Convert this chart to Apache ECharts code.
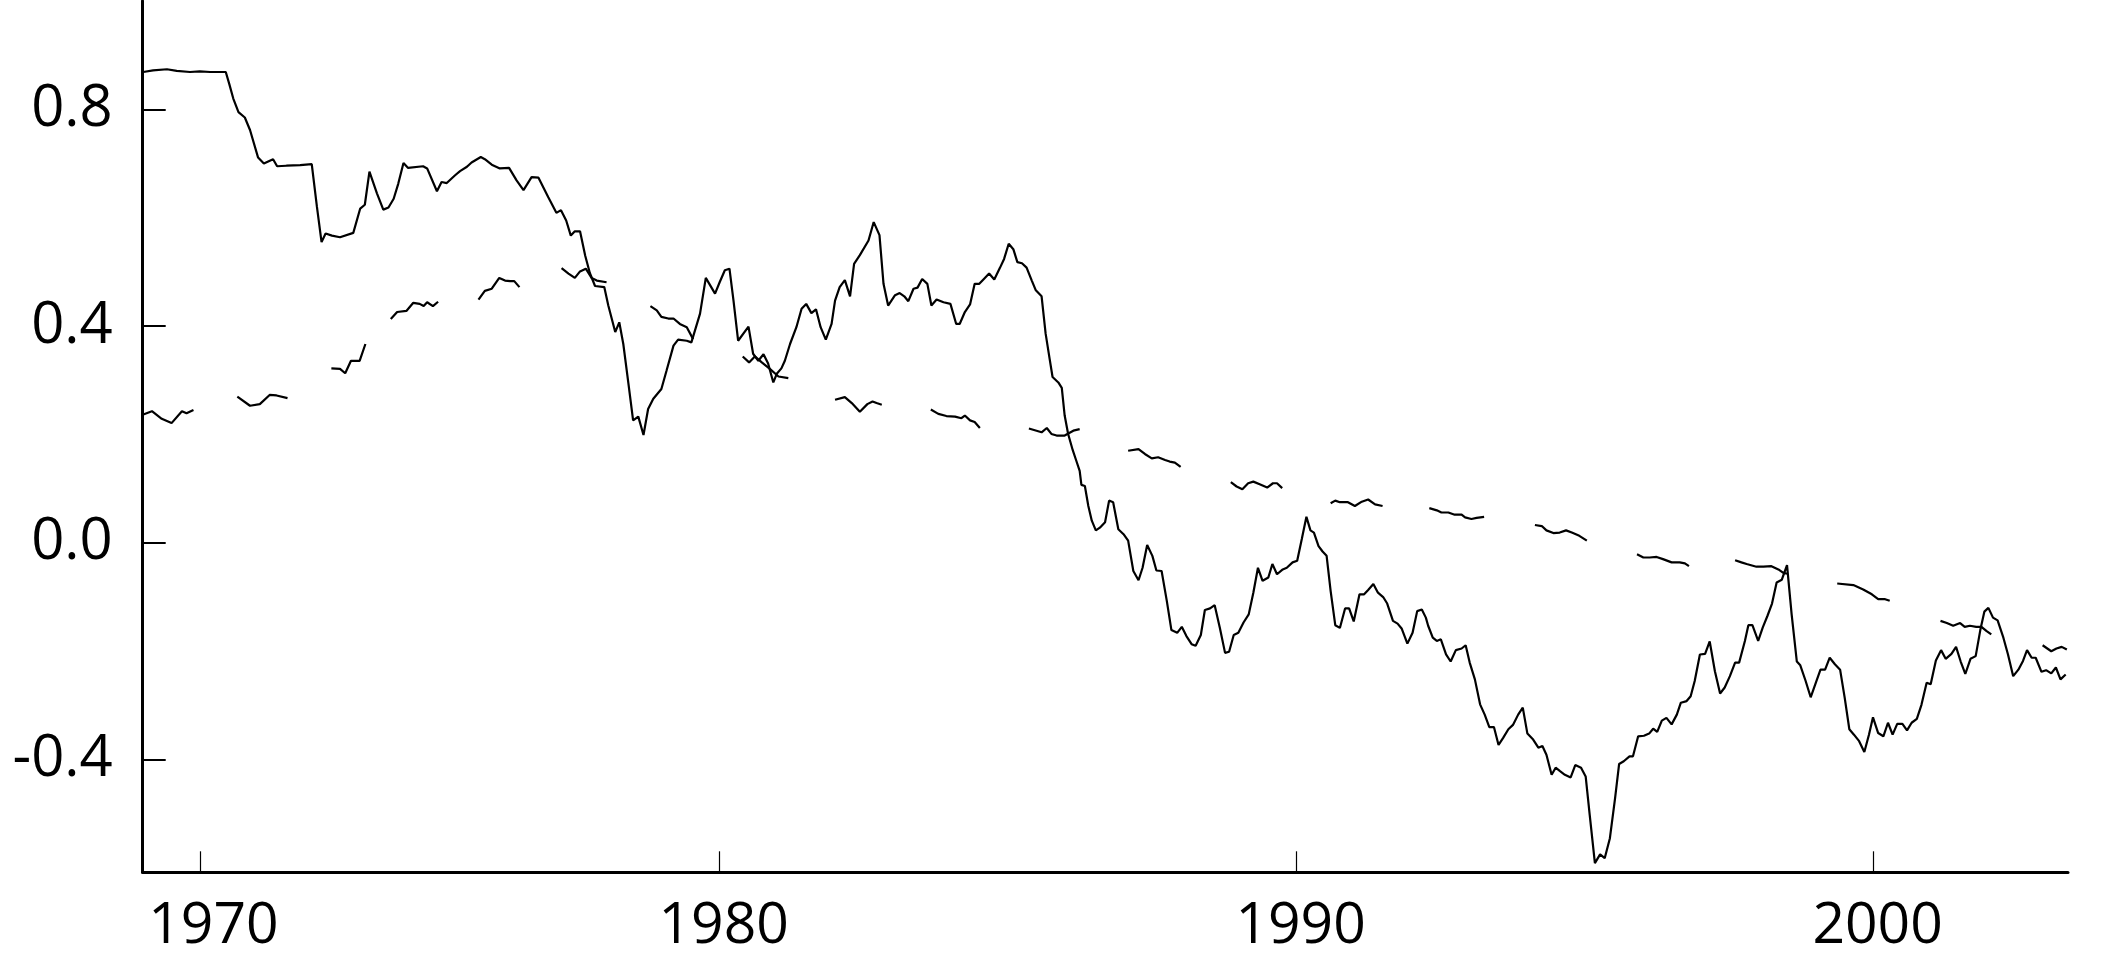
<!DOCTYPE html>
<html><head><meta charset="utf-8">
<script src="https://cdn.jsdelivr.net/npm/echarts@6/dist/echarts.min.js"></script>
<style>html,body{margin:0;padding:0;background:#fff}#c{width:2126px;height:975px}</style>
</head><body><div id="c"></div>
<script>
// Tick values and labels
const xTickValues = [1971, 1980, 1990, 2000];
const xTickLabels = ['1970', '1980', '1990', '2000'];
const yTickValues = [-0.4, 0, 0.4, 0.8];

// Solid series (decimal year, value)
const solidYears = [
1970.01,1970.18,1970.42,1970.59,1970.82,1970.99,1971.17,1971.44,1971.50,1971.57,
1971.66,1971.77,1971.86,1972.00,1972.10,1972.26,1972.33,1972.49,1972.73,1972.93,
1973.02,1973.10,1973.17,1973.28,1973.42,1973.65,1973.77,1973.85,1973.93,1974.06,
1974.17,1974.26,1974.35,1974.43,1974.52,1974.60,1974.86,1974.93,1975.10,1975.18,
1975.27,1975.41,1975.50,1975.62,1975.70,1975.86,1975.93,1976.05,1976.19,1976.35,
1976.48,1976.60,1976.74,1976.86,1977.03,1977.17,1977.25,1977.34,1977.42,1977.49,
1977.58,1977.67,1977.75,1977.84,1978.00,1978.07,1978.19,1978.26,1978.33,1978.42,
1978.50,1978.59,1978.68,1978.76,1978.85,1978.99,1979.08,1979.20,1979.28,1979.43,
1979.51,1979.66,1979.76,1979.92,1980.00,1980.09,1980.17,1980.24,1980.32,1980.50,
1980.58,1980.67,1980.76,1980.84,1980.93,1980.99,1981.07,1981.13,1981.22,1981.33,
1981.42,1981.50,1981.59,1981.67,1981.75,1981.84,1981.94,1982.00,1982.08,1982.17,
1982.26,1982.33,1982.43,1982.58,1982.67,1982.77,1982.84,1982.92,1983.04,1983.12,
1983.20,1983.27,1983.36,1983.43,1983.51,1983.60,1983.67,1983.76,1983.88,1984.00,
1984.10,1984.16,1984.25,1984.34,1984.42,1984.50,1984.58,1984.67,1984.76,1984.86,
1984.93,1985.01,1985.09,1985.16,1985.24,1985.32,1985.41,1985.48,1985.58,1985.65,
1985.72,1985.77,1985.87,1985.93,1985.98,1986.04,1986.12,1986.18,1986.24,1986.27,
1986.33,1986.39,1986.45,1986.52,1986.59,1986.68,1986.75,1986.82,1986.91,1987.00,
1987.08,1987.17,1987.26,1987.33,1987.41,1987.50,1987.57,1987.66,1987.75,1987.83,
1987.93,1988.01,1988.09,1988.18,1988.25,1988.34,1988.41,1988.50,1988.58,1988.67,
1988.76,1988.83,1988.91,1988.99,1989.08,1989.17,1989.25,1989.33,1989.41,1989.51,
1989.58,1989.66,1989.76,1989.83,1989.93,1990.01,1990.09,1990.17,1990.24,1990.30,
1990.38,1990.45,1990.52,1990.59,1990.67,1990.75,1990.84,1990.91,1990.99,1991.09,
1991.17,1991.24,1991.33,1991.41,1991.50,1991.57,1991.67,1991.75,1991.82,1991.92,
1992.01,1992.09,1992.17,1992.24,1992.28,1992.36,1992.43,1992.50,1992.59,1992.67,
1992.76,1992.86,1992.93,1993.00,1993.09,1993.18,1993.26,1993.34,1993.42,1993.50,
1993.58,1993.67,1993.75,1993.84,1993.92,1994.00,1994.10,1994.19,1994.26,1994.33,
1994.42,1994.49,1994.56,1994.65,1994.75,1994.83,1994.93,1995.01,1995.08,1995.17,
1995.26,1995.34,1995.43,1995.52,1995.59,1995.67,1995.77,1995.83,1995.92,1996.02,
1996.11,1996.18,1996.25,1996.33,1996.41,1996.50,1996.59,1996.66,1996.76,1996.83,
1996.90,1996.99,1997.08,1997.16,1997.25,1997.34,1997.42,1997.51,1997.60,1997.67,
1997.77,1997.83,1997.90,1998.00,1998.08,1998.16,1998.24,1998.32,1998.41,1998.50,
1998.58,1998.67,1998.73,1998.82,1998.91,1999.00,1999.08,1999.16,1999.24,1999.33,
1999.42,1999.50,1999.58,1999.66,1999.75,1999.84,1999.92,1999.99,2000.08,2000.17,
2000.25,2000.33,2000.41,2000.50,2000.58,2000.66,2000.75,2000.83,2000.92,2000.99,
2001.08,2001.17,2001.25,2001.35,2001.43,2001.51,2001.59,2001.68,2001.77,2001.85,
2001.92,2001.99,2002.07,2002.15,2002.25,2002.33,2002.42,2002.51,2002.59,2002.66,
2002.74,2002.81,2002.91,2002.99,2003.08,2003.16,2003.24,2003.33
];
const solidValues = [
.869,.872,.874,.871,.869,.870,.869,.869,.847,.820,
.795,.785,.762,.711,.700,.708,.695,.696,.697,.699,
.620,.555,.571,.567,.564,.572,.617,.624,.685,.645,
.615,.619,.635,.663,.701,.692,.695,.691,.649,.666,
.664,.678,.686,.694,.702,.712,.708,.698,.691,.692,
.669,.651,.675,.674,.638,.609,.614,.595,.567,.575,
.575,.530,.498,.474,.472,.438,.389,.407,.367,.293,
.226,.233,.199,.247,.266,.284,.318,.364,.375,.373,
.370,.423,.489,.460,.481,.503,.506,.447,.373,.399,
.349,.336,.348,.331,.296,.312,.322,.336,.367,.398,
.432,.441,.424,.431,.398,.375,.404,.447,.472,.485,
.455,.515,.531,.558,.592,.568,.478,.438,.457,.461,
.455,.446,.469,.471,.487,.478,.438,.449,.444,.441,
.404,.404,.426,.440,.478,.478,.487,.497,.486,.508,
.524,.552,.542,.518,.516,.508,.484,.466,.455,.386,
.339,.306,.296,.286,.235,.201,.171,.152,.133,.107,
.105,.068,.041,.023,.028,.038,.078,.075,.025,.016,
.004,-.052,-.069,-.046,-.004,-.024,-.051,-.052,-.107,-.161,
-.166,-.155,-.172,-.187,-.190,-.170,-.124,-.121,-.115,-.157,
-.203,-.201,-.170,-.166,-.147,-.132,-.092,-.046,-.070,-.064,
-.039,-.058,-.049,-.046,-.036,-.033,.007,.048,.023,.019,
-.006,-.016,-.024,-.089,-.152,-.157,-.121,-.121,-.145,-.095,
-.095,-.087,-.076,-.092,-.100,-.112,-.144,-.149,-.158,-.186,
-.166,-.126,-.123,-.138,-.153,-.175,-.181,-.178,-.206,-.219,
-.198,-.195,-.189,-.221,-.252,-.298,-.317,-.340,-.340,-.373,
-.360,-.344,-.336,-.317,-.304,-.352,-.363,-.378,-.375,-.391,
-.428,-.415,-.421,-.428,-.433,-.410,-.415,-.431,-.502,-.591,
-.575,-.582,-.545,-.471,-.408,-.403,-.394,-.394,-.357,-.356,
-.352,-.343,-.349,-.328,-.323,-.335,-.317,-.295,-.292,-.283,
-.255,-.206,-.205,-.182,-.237,-.278,-.267,-.246,-.221,-.221,
-.181,-.152,-.152,-.181,-.156,-.135,-.112,-.073,-.068,-.041,
-.132,-.219,-.226,-.254,-.285,-.258,-.234,-.234,-.212,-.224,
-.234,-.286,-.344,-.354,-.366,-.386,-.354,-.322,-.351,-.357,
-.332,-.354,-.334,-.334,-.346,-.332,-.325,-.299,-.258,-.261,
-.217,-.198,-.214,-.205,-.192,-.219,-.242,-.214,-.209,-.161,
-.127,-.120,-.138,-.143,-.175,-.206,-.246,-.234,-.218,-.198,
-.212,-.212,-.238,-.235,-.241,-.230,-.252,-.243
];

// Dashed series: visible pieces only, null marks a gap
const dashedYears = [
1970.01,1970.16,1970.33,1970.50,1970.68,1970.76,1970.88, null,
1971.64,1971.86,1972.03,1972.20,1972.32,1972.51, null,
1973.27,1973.42,1973.51,1973.61,1973.76,1973.86, null,
1974.30,1974.41,1974.57,1974.69,1974.80,1974.87,1974.93,1975.03,1975.12, null,
1975.82,1975.93,1976.05,1976.18,1976.28,1976.37,1976.44,1976.53, null,
1977.26,1977.38,1977.49,1977.58,1977.68,1977.78,1977.87,1978.04, null,
1978.80,1978.91,1978.99,1979.11,1979.20,1979.31,1979.43,1979.54, null,
1980.40,1980.51,1980.61,1980.73,1980.87,1981.02,1981.19, null,
1982.00,1982.17,1982.29,1982.43,1982.56,1982.65,1982.72,1982.81, null,
1983.66,1983.79,1983.93,1984.08,1984.19,1984.25,1984.34,1984.42,1984.51, null,
1985.36,1985.58,1985.67,1985.75,1985.84,1985.98,1986.13,1986.24, null,
1987.08,1987.26,1987.37,1987.49,1987.60,1987.72,1987.80,1987.89,1987.99, null,
1988.86,1988.96,1989.06,1989.16,1989.25,1989.36,1989.49,1989.59,1989.66,1989.75, null,
1990.59,1990.67,1990.75,1990.89,1991.01,1991.13,1991.24,1991.36,1991.49, null,
1992.30,1992.43,1992.51,1992.63,1992.74,1992.86,1992.92,1993.03,1993.12,1993.25, null,
1994.13,1994.25,1994.33,1994.45,1994.56,1994.67,1994.77,1994.90,1995.03, null,
1995.90,1996.01,1996.12,1996.24,1996.35,1996.50,1996.64,1996.73,1996.80, null,
1997.60,1997.71,1997.80,1997.97,1998.09,1998.23,1998.35,1998.43,1998.50, null,
1999.37,1999.65,1999.82,1999.97,2000.08,2000.20,2000.28, null,
2001.16,2001.27,2001.38,2001.50,2001.58,2001.67,2001.78,2001.87,2001.96,2002.04, null,
2002.93,2003.08,2003.17,2003.26,2003.35
];
const dashedValues = [
.237,.243,.229,.221,.243,.239,.245, null,
.270,.253,.256,.273,.272,.267, null,
.322,.321,.313,.336,.336,.367, null,
.413,.426,.428,.443,.441,.437,.444,.437,.445, null,
.449,.465,.469,.489,.484,.483,.483,.472, null,
.507,.497,.489,.501,.506,.489,.484,.481, null,
.437,.429,.417,.414,.414,.404,.398,.376, null,
.344,.333,.344,.333,.321,.307,.304, null,
.264,.269,.258,.242,.256,.261,.258,.255, null,
.246,.238,.234,.233,.230,.235,.226,.223,.212, null,
.211,.204,.212,.201,.198,.198,.207,.210, null,
.170,.173,.164,.156,.158,.153,.150,.148,.140, null,
.112,.104,.099,.110,.113,.108,.102,.110,.110,.101, null,
.073,.078,.075,.075,.068,.076,.080,.071,.068, null,
.064,.060,.056,.056,.052,.052,.047,.044,.046,.048, null,
.033,.031,.023,.018,.019,.023,.019,.013,.004, null,
-.021,-.027,-.027,-.026,-.030,-.036,-.036,-.038,-.043, null,
-.032,-.036,-.039,-.044,-.044,-.043,-.049,-.055,-.057, null,
-.075,-.078,-.086,-.095,-.104,-.104,-.107, null,
-.144,-.148,-.153,-.148,-.155,-.153,-.155,-.155,-.163,-.169, null,
-.189,-.200,-.195,-.192,-.197
];

const FONT = '"Open Sans", "Noto Sans", sans-serif';
const solidData = solidYears.map((t, i) => [t, solidValues[i]]);
const dashedData = dashedYears.map((t, i) => (t === null ? [null, null] : [t, dashedValues[i]]));

function xLabel(v) {
  let best = 0, d = Infinity;
  xTickValues.forEach((tv, i) => { if (Math.abs(tv - v) < d) { d = Math.abs(tv - v); best = i; } });
  return (best === 0 ? '{f|' : '{n|') + xTickLabels[best] + '}';
}

const chart = echarts.init(document.getElementById('c'), null, { renderer: 'canvas' });
chart.setOption({
  animation: false,
  backgroundColor: '#ffffff',
  grid: { left: 142.7, right: 58, top: 1, bottom: 102.7, containLabel: false },
  xAxis: {
    type: 'value', min: 1970, max: 2003.37,
    axisLine: { show: true, onZero: false, lineStyle: { color: '#000', width: 3 } },
    axisTick: { show: true, inside: true, length: 21, customValues: xTickValues, lineStyle: { color: '#000', width: 1.2 } },
    axisLabel: {
      show: true, customValues: xTickValues, margin: 26, color: '#000',
      fontSize: 57, fontFamily: FONT, formatter: xLabel,
      rich: {
        f: { fontSize: 57, fontFamily: FONT, color: '#000', padding: [0, 0, 0, 26] },
        n: { fontSize: 57, fontFamily: FONT, color: '#000', padding: [0, 0, 0, 8] }
      }
    },
    splitLine: { show: false }
  },
  yAxis: {
    type: 'value', min: -0.608, max: 1.0,
    axisLine: { show: true, onZero: false, lineStyle: { color: '#000', width: 3 } },
    axisTick: { show: true, inside: true, length: 23, customValues: yTickValues, lineStyle: { color: '#000', width: 2 } },
    axisLabel: {
      show: true, customValues: yTickValues, margin: 30, color: '#000',
      fontSize: 58, fontFamily: FONT, padding: [0, 0, 10, 0],
      formatter: v => v.toFixed(1)
    },
    splitLine: { show: false }
  },
  series: [
    { name: 'solid', type: 'line', data: solidData, showSymbol: false, symbol: 'none',
      connectNulls: false, lineStyle: { color: '#000', width: 2.2 } },
    { name: 'dashed', type: 'line', data: dashedData, showSymbol: false, symbol: 'none',
      connectNulls: false, lineStyle: { color: '#000', width: 2.2 } }
  ]
});
</script>
</body></html>
